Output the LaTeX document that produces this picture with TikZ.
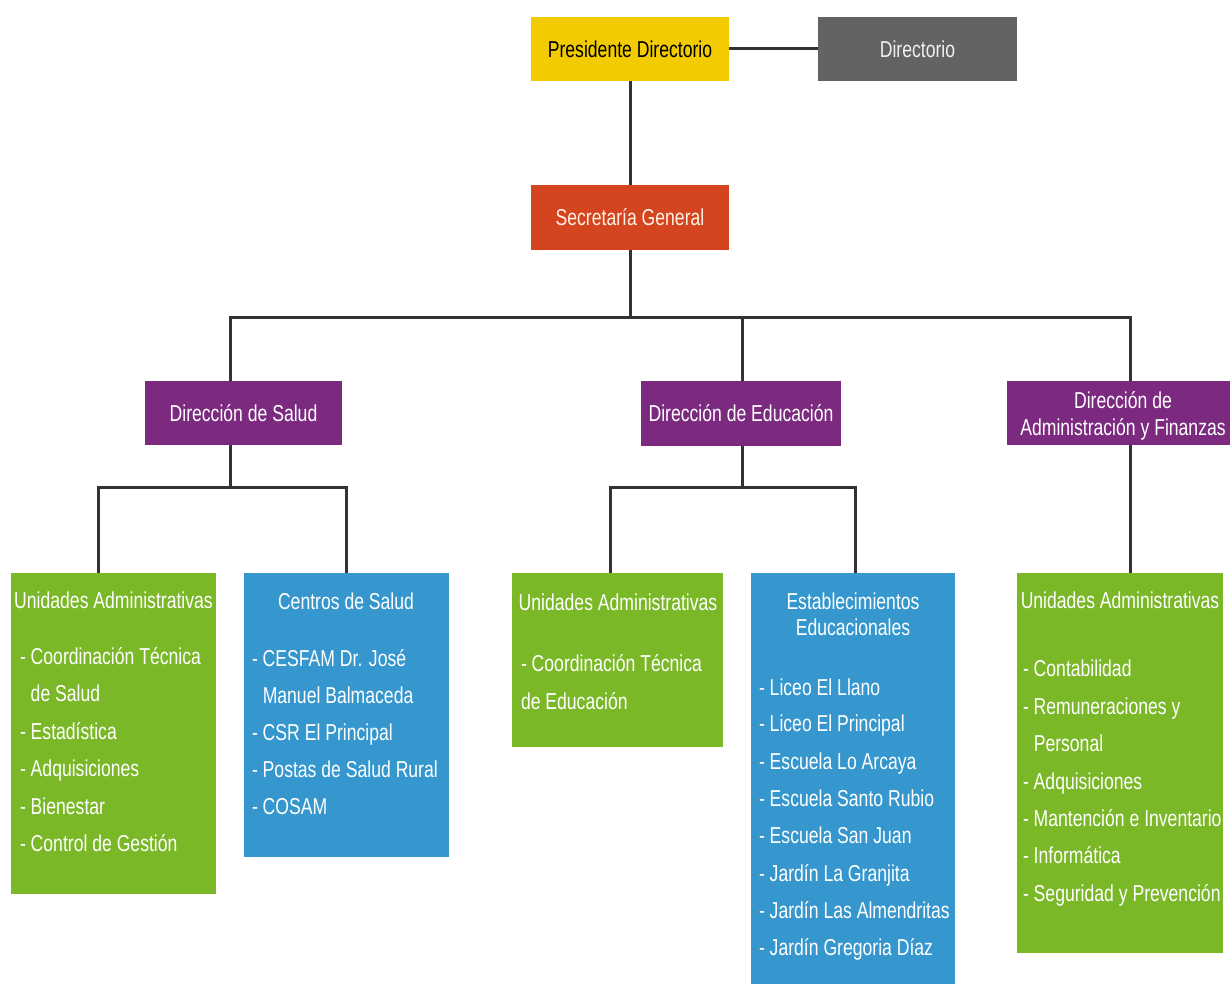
\documentclass[tikz,border=0pt]{standalone}
\usepackage{fontspec}
\setmainfont[FakeStretch=0.765]{Liberation Sans}
\definecolor{yelc}{HTML}{F2CC00}
\definecolor{orgc}{HTML}{D4441E}
\definecolor{grayc}{HTML}{636363}
\definecolor{purc}{HTML}{7B2A7F}
\definecolor{grnc}{HTML}{7AB828}
\definecolor{bluc}{HTML}{3597CD}
\definecolor{linec}{HTML}{333333}
\newcommand\orgfont{\fontsize{23}{27}\selectfont}
\begin{document}
\begin{tikzpicture}[x=1pt,y=-1pt,
  box/.style={draw=none, inner sep=0pt, outer sep=0pt, anchor=north west, font=\orgfont, text=white, align=center},
  conn/.style={draw=linec, line width=3pt},
  txt/.style={anchor=west, inner sep=0pt, outer sep=0pt, text height=16pt, text depth=0pt, text=white, font=\orgfont},
  ttl/.style={anchor=center, inner sep=0pt, outer sep=0pt, text height=16pt, text depth=0pt, text=white, font=\orgfont}]
\useasboundingbox[fill=white] (0,0) rectangle (1230,984);
% top level
\node[box, fill=yelc, text=black, minimum width=198pt, minimum height=64pt] (pd) at (531,17) {Presidente Directorio};
\node[box, fill=grayc, text=white!88!gray, minimum width=199pt, minimum height=64pt] (dir) at (818,17) {Directorio};
\node[box, fill=orgc, text=white!90!orange, minimum width=198pt, minimum height=65pt] (sec) at (531,185) {Secretaría General};
% direcciones
\node[box, fill=purc, minimum width=197pt, minimum height=64pt] (dsal) at (145,381) {Dirección de Salud};
\node[box, fill=purc, minimum width=200pt, minimum height=65pt] (dedu) at (641,381) {Dirección de Educación};
\node[box, fill=purc, minimum width=223pt, minimum height=64pt] (dadm) at (1007,381) {};
\node[ttl] (dadm1) at (1123,400) {Dirección de};
\node[ttl] (dadm2) at (1123,427) {Administración y Finanzas};
% lower boxes
\node[box, fill=grnc, minimum width=205pt, minimum height=321pt] (ua1) at (11,573) {};
\node[box, fill=bluc, minimum width=205pt, minimum height=284pt] (cs) at (244,573) {};
\node[box, fill=grnc, minimum width=211pt, minimum height=174pt] (ua2) at (512,573) {};
\node[box, fill=bluc, minimum width=204pt, minimum height=420pt] (est) at (751,573) {};
\node[box, fill=grnc, minimum width=206pt, minimum height=380pt] (ua3) at (1017,573) {};
% connectors
\coordinate (bl) at (230,317);
\coordinate (br) at (1130,317);
\draw[conn] (pd.east) -- (dir.west);
\draw[conn] (pd.south) -- (sec.north);
\draw[conn] (sec.south) -- (sec.south |- bl);
\draw[conn] (bl |- dsal.north) -- (bl) -- (br) -- (br |- dadm.north);
\coordinate (bm) at (742,317);
\draw[conn] (bm) -- (bm |- dedu.north);
% salud
\coordinate (sL) at (98,487);
\coordinate (sR) at (346,487);
\draw[conn] (bl |- dsal.south) -- (bl |- sL);
\draw[conn] (sL |- ua1.north) -- (sL) -- (sR) -- (sR |- cs.north);
% educacion
\coordinate (eL) at (610,487);
\coordinate (eR) at (855,487);
\draw[conn] (bm |- dedu.south) -- (bm |- eL);
\draw[conn] (eL |- ua2.north) -- (eL) -- (eR) -- (eR |- est.north);
% administracion
\draw[conn] (br |- dadm.south) -- (br |- ua3.north);
% texts UA1
\node[ttl] (ua1t) at (113.5,600) {Unidades Administrativas};
\node[txt] (ua1a) at (20,656.5) {- Coordinación Técnica};
\node[txt] (ua1b) at (20,693) {\phantom{- }de Salud};
\node[txt] (ua1c) at (20,731) {- Estadística};
\node[txt] (ua1d) at (20,768.5) {- Adquisiciones};
\node[txt] (ua1e) at (20,806) {- Bienestar};
\node[txt] (ua1f) at (20,843) {- Control de Gestión};
% Centros de Salud
\node[ttl] (cst) at (346,601) {Centros de Salud};
\node[txt] (csa) at (252,658) {- CESFAM Dr. José};
\node[txt] (csb) at (252,695) {\phantom{- }Manuel Balmaceda};
\node[txt] (csc) at (252,732) {- CSR El Principal};
\node[txt] (csd) at (252,769) {- Postas de Salud Rural};
\node[txt] (cse) at (252,806) {- COSAM};
% UA2
\node[ttl] (ua2t) at (618,602) {Unidades Administrativas};
\node[txt] (ua2a) at (521,663) {- Coordinación Técnica};
\node[txt] (ua2b) at (521,701) {de Educación};
% Establecimientos
\node[ttl] (estt1) at (853,601) {Establecimientos};
\node[ttl] (estt2) at (853,627.5) {Educacionales};
\node[txt] (esta) at (759,687) {- Liceo El Llano};
\node[txt] (estb) at (759,723.5) {- Liceo El Principal};
\node[txt] (estc) at (759,761) {- Escuela Lo Arcaya};
\node[txt] (estd) at (759,798) {- Escuela Santo Rubio};
\node[txt] (este) at (759,835.5) {- Escuela San Juan};
\node[txt] (estf) at (759,873) {- Jardín La Granjita};
\node[txt] (estg) at (759,910) {- Jardín Las Almendritas};
\node[txt] (esth) at (759,947.5) {- Jardín Gregoria Díaz};
% UA3
\node[ttl] (ua3t) at (1120,600) {Unidades Administrativas};
\node[txt] (ua3a) at (1023,668) {- Contabilidad};
\node[txt] (ua3b) at (1023,706) {- Remuneraciones y};
\node[txt] (ua3c) at (1023,743) {\phantom{- }Personal};
\node[txt] (ua3d) at (1023,781) {- Adquisiciones};
\node[txt] (ua3e) at (1023,818) {- Mantención e Inventario};
\node[txt] (ua3f) at (1023,855) {- Informática};
\node[txt] (ua3g) at (1023,893) {- Seguridad y Prevención};
\end{tikzpicture}
\end{document}
